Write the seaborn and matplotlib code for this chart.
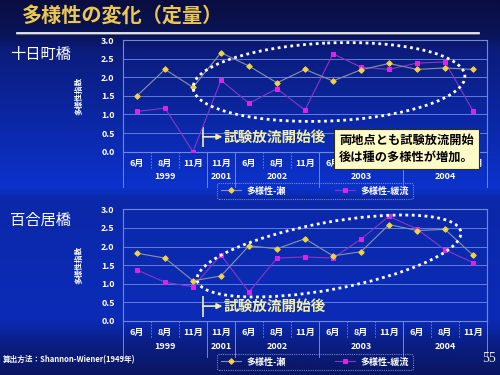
import numpy as np
import pandas as pd
import matplotlib
matplotlib.use('Agg')
import matplotlib.pyplot as plt
import seaborn as sns
from matplotlib.patches import Ellipse
from matplotlib.colors import LinearSegmentedColormap
from matplotlib.transforms import blended_transform_factory

# data
months = ['6月', '8月', '11月', '11月', '6月', '8月', '11月',
          '6月', '8月', '11月', '6月', '8月', '11月']
years = ['1999', '2001', '2002', '2003', '2004']
year_counts = [3, 1, 3, 3, 3]

# 十日町橋
tokamachi_se = [1.50, 2.21, 1.73, 2.66, 2.30, 1.85, 2.21, 1.90, 2.20, 2.37, 2.21, 2.25, 2.21]
tokamachi_kanryu = [1.08, 1.17, 0.00, 1.92, 1.30, 1.69, 1.12, 2.63, 2.27, 2.21, 2.38, 2.41, 1.10]

# 百合居橋
yurii_se = [1.82, 1.69, 1.08, 1.21, 2.02, 1.94, 2.21, 1.75, 1.86, 2.59, 2.43, 2.46, 1.77]
yurii_kanryu = [1.37, 1.04, 0.92, 1.77, 0.78, 1.69, 1.72, 1.69, 2.20, 2.81, 2.47, 1.91, 1.57]

plt.rcParams['font.family'] = ['Noto Sans CJK JP', 'DejaVu Sans']

W, H = 500, 375
fig = plt.figure(figsize=(5, 3.75), dpi=100)

# background gradient
bg = fig.add_axes([0, 0, 1, 1])
bg.set_axis_off()
cmap = LinearSegmentedColormap.from_list('slide', [
    (0.00, '#090d40'), (0.09, '#0a1458'), (0.13, '#0b1c7c'),
    (0.50, '#0c32cc'), (0.53, '#0b28a8'), (0.85, '#0c2cb8'),
    (0.92, '#0a1e84'), (1.00, '#0a1662')])
grad = np.linspace(0, 1, 300).reshape(-1, 1)
bg.imshow(grad, aspect='auto', cmap=cmap, extent=[0, W, H, 0])
bg.set_xlim(0, W)
bg.set_ylim(H, 0)


def draw_panel(ax, se, kanryu, legend_y):
    df = pd.DataFrame({'idx': range(len(months)), 'se': se, 'kanryu': kanryu})
    sns.lineplot(data=df, x='idx', y='se', ax=ax, color='#8a94a8', linewidth=0.8,
                 marker='D', markersize=2.8, markerfacecolor='#f5d33a',
                 markeredgecolor='#f5d33a', label='多様性-瀬', zorder=4)
    sns.lineplot(data=df, x='idx', y='kanryu', ax=ax, color='#8a36c8', linewidth=0.8,
                 marker='s', markersize=2.8, markerfacecolor='#e81ee8',
                 markeredgecolor='#e81ee8', label='多様性-緩流', zorder=3)
    ax.set_facecolor('none')
    ax.set_xlim(-0.5, len(months) - 0.5)
    ax.set_ylim(0, 3)
    ax.set_yticks(np.arange(0, 3.01, 0.5))
    ax.set_yticklabels([f'{v:.1f}' for v in np.arange(0, 3.01, 0.5)])
    ax.grid(axis='y', color='#6e8ce6', linewidth=0.6)
    ax.set_axisbelow(True)
    for s in ax.spines.values():
        s.set_color('#6f88d8')
        s.set_linewidth(0.8)
    ax.tick_params(axis='y', length=0, pad=6, labelcolor='white', labelsize=6.5)
    for lab in ax.get_yticklabels():
        lab.set_fontweight('bold')
    ax.set_xticks(range(len(months)))
    ax.set_xticklabels(months, color='white', fontsize=6.5, fontweight='bold')
    ax.tick_params(axis='x', length=0, pad=5)
    ax.set_xlabel('')
    ax.set_ylabel('多様性指数', color='white', fontsize=5.5, fontweight='bold')
    ax.yaxis.set_label_coords(-0.107, 0.5)

    tr = blended_transform_factory(ax.transData, ax.transAxes)
    for k in range(1, len(months)):
        ax.plot([k - 0.5, k - 0.5], [0, -0.15], transform=tr, clip_on=False,
                color='#6f88d8', linewidth=0.6, linestyle=(0, (2, 1.5)))
    start = -0.5
    bounds = [start]
    for name, n in zip(years, year_counts):
        ax.text(start + n / 2, -0.225, name, transform=tr, ha='center', va='center',
                color='white', fontsize=6.5, fontweight='bold')
        start += n
        bounds.append(start)
    for b in bounds:
        ax.plot([b, b], [0, -0.32], transform=tr, clip_on=False,
                color='#6f88d8', linewidth=0.7)

    # test discharge marker
    ax.vlines(2.35, 0.12, 0.66, color='#f0f0a8', linewidth=1.2)
    ax.annotate('', xy=(3.05, 0.40), xytext=(2.35, 0.40),
                arrowprops=dict(arrowstyle='-|>', color='#f0f0a8', lw=1.2,
                                mutation_scale=8, shrinkA=0, shrinkB=0))
    ax.text(3.1, 0.40, '試験放流開始後', color='#f3f0a8', fontsize=10.5,
            fontweight='bold', va='center', ha='left')

    leg = ax.legend(loc='center', bbox_to_anchor=(0.63, legend_y),
                    bbox_transform=fig.transFigure, ncol=2, fontsize=6.5,
                    frameon=True, handlelength=2.2, columnspacing=5.5,
                    borderpad=0.4, handletextpad=0.6, borderaxespad=0)
    leg.get_frame().set_facecolor('none')
    leg.get_frame().set_edgecolor('#8fa0d8')
    leg.get_frame().set_linestyle((0, (1, 1)))
    leg.get_frame().set_linewidth(0.8)
    for t in leg.get_texts():
        t.set_color('white')
        t.set_fontweight('bold')


ax1 = fig.add_axes([123 / W, 1 - 151.7 / H, 364 / W, 111.7 / H])
draw_panel(ax1, tokamachi_se, tokamachi_kanryu, 1 - 191 / H)

ax2 = fig.add_axes([123 / W, 1 - 321 / H, 364 / W, 111.7 / H])
draw_panel(ax2, yurii_se, yurii_kanryu, 1 - 362 / H)

# overlay in pixel coordinates for slide decorations
ov = fig.add_axes([0, 0, 1, 1])
ov.set_axis_off()
ov.set_facecolor('none')
ov.set_xlim(0, W)
ov.set_ylim(H, 0)

ov.text(22, 15, '多様性の変化（定量）', color='#ecc94e', fontsize=14.5,
        fontweight='bold', va='center', ha='left')
ov.plot([17, 479], [34, 34], color='#707070', linewidth=1.2)
ov.plot([17, 479], [33, 33], color='white', linewidth=1.2)

ov.text(10, 55, '十日町橋', color='white', fontsize=11, va='center', ha='left')
ov.text(10, 220, '百合居橋', color='white', fontsize=11, va='center', ha='left')

ov.add_patch(Ellipse((329, 82), 272, 78, angle=-2.5, fill=False, edgecolor='white',
                     linewidth=2, linestyle=(0, (1, 1.3))))
ov.add_patch(Ellipse((329, 256), 268, 67, angle=-10.5, fill=False, edgecolor='white',
                     linewidth=2, linestyle=(0, (1, 1.3))))

ov.text(339, 149, '両地点とも試験放流開始\n後は種の多様性が増加。', color='black',
        fontsize=8.8, fontweight='bold', va='center', ha='left', linespacing=1.35,
        bbox=dict(boxstyle='square,pad=0.45', facecolor='#fffbc6',
                  edgecolor='#303018', linewidth=0.8))

ov.text(3, 360, '算出方法：Shannon-Wiener(1949年)', color='white', fontsize=5.5,
        fontweight='bold', va='center', ha='left')
ov.text(496, 359, '55', color='#e8e8e8', fontsize=10, family='Liberation Serif',
        va='center', ha='right')

fig.savefig('out.png', dpi=100)
